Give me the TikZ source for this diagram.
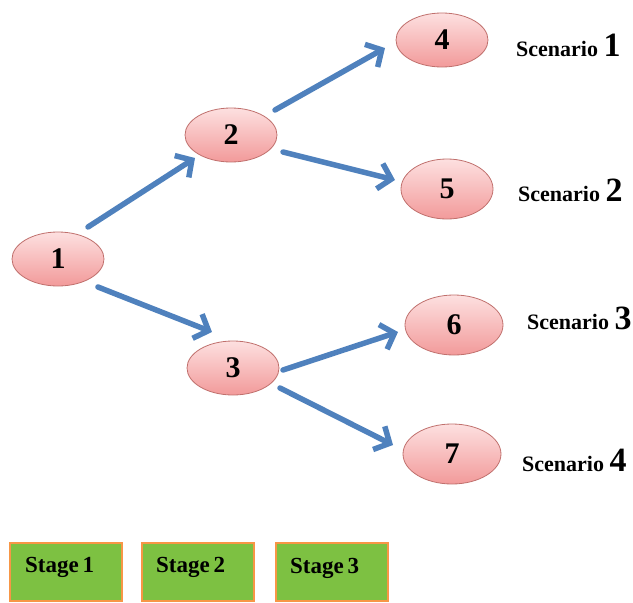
\documentclass[tikz,border=0pt]{standalone}
\usepackage{fontspec}
\setmainfont{Liberation Serif}
\usetikzlibrary{arrows.meta,shapes.geometric}
\definecolor{arrblue}{HTML}{4F81BD}
\definecolor{elborder}{HTML}{C0706D}
\definecolor{eltop}{HTML}{FDE0E0}
\definecolor{elbot}{HTML}{F29A9A}
\definecolor{stagegreen}{HTML}{7DC142}
\definecolor{stageorange}{HTML}{F79646}
\tikzset{
  stnode/.style={ellipse, draw=elborder, line width=0.8pt, top color=eltop, bottom color=elbot,
    minimum width=92pt, minimum height=54pt, inner sep=0pt,
    font=\fontsize{30}{30}\selectfont\bfseries},
  bignode/.style={minimum width=98pt, minimum height=60pt},
  conn/.style={draw=arrblue, line width=5.5pt, line cap=round,
    -{Straight Barb[length=12pt,width=26pt,line width=5.5pt]}},
  scen/.style={anchor=west, inner sep=0pt, font=\fontsize{22}{22}\selectfont\bfseries},
  stagebox/.style={draw=stageorange, line width=2pt, fill=stagegreen, minimum width=112pt, minimum height=58pt,
    inner sep=0pt},
  stagelbl/.style={anchor=west, inner sep=0pt, font=\fontsize{23}{23}\selectfont\bfseries}
}
\newcommand{\bigd}[1]{{\fontsize{34}{34}\selectfont #1}}
\begin{document}
\begin{tikzpicture}[x=1pt,y=-1pt]
\useasboundingbox (0,0) rectangle (633,603);
\node[stnode] (n1) at (58,259) {1};
\node[stnode] (n2) at (231,135) {2};
\node[stnode] (n3) at (233,368) {3};
\node[stnode] (n4) at (442,40) {4};
\node[stnode, minimum height=60pt] (n5) at (447,189) {5};
\node[stnode, bignode] (n6) at (454,325) {6};
\node[stnode, bignode] (n7) at (452,454) {7};
\draw[conn] ([shift={(30,-32)}]n1.center) -- ([shift={(-36,23)}]n2.center);
\draw[conn] ([shift={(40,28)}]n1.center) -- ([shift={(-21,-36)}]n3.center);
\draw[conn] ([shift={(44,-25)}]n2.center) -- ([shift={(-57,8)}]n4.center);
\draw[conn] ([shift={(52,17)}]n2.center) -- ([shift={(-52,-9)}]n5.center);
\draw[conn] ([shift={(50,2)}]n3.center) -- ([shift={(-56,7)}]n6.center);
\draw[conn] ([shift={(47,20)}]n3.center) -- ([shift={(-59,-9)}]n7.center);
\node[scen] (s1) at (516,45) {Scenario \bigd{1}};
\node[scen] (s2) at (518,190) {Scenario \bigd{2}};
\node[scen] (s3) at (527,318) {Scenario \bigd{3}};
\node[scen] (s4) at (522,460) {Scenario \bigd{4}};
\node[stagebox] (b1) at (66,572) {};
\node[stagebox] (b2) at (198,572) {};
\node[stagebox] (b3) at (332,572) {};
\node[stagelbl] at (25,567) {Stage\,1};
\node[stagelbl] at (156,567) {Stage\,2};
\node[stagelbl] at (290,568) {Stage\,3};
\end{tikzpicture}
\end{document}
